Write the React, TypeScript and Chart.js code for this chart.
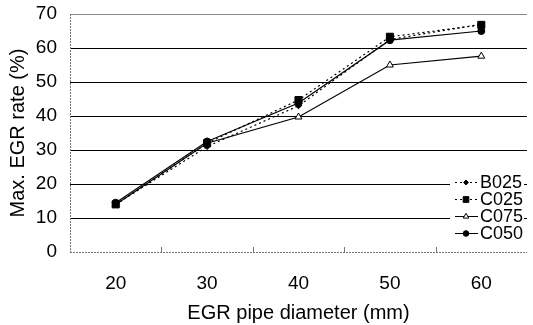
import React, { useEffect, useRef } from "react";
import { Chart, registerables } from "chart.js";
import { drawPoint } from "chart.js/helpers";

Chart.register(...registerables);

const categories = ["20", "30", "40", "50", "60"];
const b025 = [14, 31, 43, 62.5, 67];
const c025 = [14, 32, 44.7, 63.3, 66.8];
const c075 = [14, 32, 39.7, 55, 57.6];
const c050 = [14.5, 32.5, 43.8, 62.3, 65];
const yTicks = [0, 10, 20, 30, 40, 50, 60, 70];
const seriesNames = ["B025", "C025", "C075", "C050"];

const FONT = "'Liberation Sans', Arial, sans-serif";

export default function App() {
  const ref = useRef<HTMLCanvasElement>(null);
  useEffect(() => {
    document.body.style.margin = "0";
    const canvas = ref.current!;
    const series = [
      { label: seriesNames[0], data: b025, dash: [2, 3], style: "rectRot", r: 3, fill: true },
      { label: seriesNames[1], data: c025, dash: [2, 3], style: "rect", r: 5, fill: true },
      { label: seriesNames[2], data: c075, dash: [], style: "triangle", r: 4, fill: false },
      { label: seriesNames[3], data: c050, dash: [], style: "circle", r: 3.5, fill: true },
    ];
    const extras = {
      id: "extras",
      beforeDatasetsDraw(chart: any) {
        const ctx = chart.ctx;
        const { left, right, top, bottom } = chart.chartArea;
        const x = chart.scales.x;
        ctx.save();
        ctx.strokeStyle = "#777";
        ctx.lineWidth = 1;
        ctx.setLineDash([2, 1]);
        ctx.beginPath();
        ctx.moveTo(Math.round(left) + 0.5, top);
        ctx.lineTo(Math.round(left) + 0.5, bottom);
        ctx.moveTo(left, Math.round(bottom) + 0.5);
        ctx.lineTo(right, Math.round(bottom) + 0.5);
        ctx.stroke();
        ctx.setLineDash([]);
        for (let i = 1; i < categories.length; i++) {
          const px = Math.round((x.getPixelForValue(i - 1) + x.getPixelForValue(i)) / 2) + 0.5;
          ctx.beginPath();
          ctx.moveTo(px, bottom);
          ctx.lineTo(px, bottom - 5);
          ctx.stroke();
        }
        ctx.restore();
      },
      afterDatasetsDraw(chart: any) {
        const ctx = chart.ctx;
        ctx.save();
        const bx = 450, by = 173, bw = 74, bh = 70;
        ctx.fillStyle = "#fff";
        ctx.fillRect(bx, by, bw, bh);
        const rows = [182, 199, 216, 233];
        ctx.font = "18px " + FONT;
        ctx.textBaseline = "middle";
        series.forEach((s, i) => {
          const y = rows[i] + 0.5;
          ctx.strokeStyle = "#000";
          ctx.lineWidth = 1;
          ctx.setLineDash(s.dash);
          ctx.beginPath();
          ctx.moveTo(455, y);
          ctx.lineTo(478, y);
          ctx.stroke();
          ctx.setLineDash([]);
          ctx.fillStyle = s.fill ? "#000" : "#fff";
          ctx.strokeStyle = "#000";
          drawPoint(ctx, { pointStyle: s.style, radius: s.r * 0.8, rotation: 0, borderWidth: 1 } as any, 466, y);
          ctx.fillStyle = "#000";
          ctx.fillText(s.label, 480, rows[i] + 1);
        });
        ctx.restore();
      },
    };
    const chart = new Chart(canvas, {
      type: "line",
      data: {
        labels: categories,
        datasets: series.map((s) => ({
          label: s.label,
          data: s.data,
          borderColor: "#000",
          borderWidth: 1.2,
          borderDash: s.dash,
          pointStyle: s.style as any,
          pointRadius: s.r,
          pointBackgroundColor: s.fill ? "#000" : "#fff",
          pointBorderColor: "#000",
          pointBorderWidth: 1,
          tension: 0,
        })),
      },
      options: {
        responsive: false,
        animation: false,
        layout: { padding: { top: 14, right: 0, left: 6, bottom: 0 } },
        plugins: { legend: { display: false }, tooltip: { enabled: false } },
        scales: {
          x: {
            offset: true,
            grid: { display: false },
            border: { display: false },
            ticks: { color: "#000", font: { family: FONT, size: 19 }, padding: 12 },
            title: {
              display: true,
              text: "EGR pipe diameter (mm)",
              color: "#000",
              font: { family: FONT, size: 20 },
              padding: { top: 10, bottom: 0 },
            },
            afterFit: (s: any) => {
              s.height = 73;
              s.paddingLeft = 0;
              s.paddingRight = 0;
            },
          },
          y: {
            min: 0,
            max: 70,
            afterBuildTicks: (s: any) => {
              s.ticks = yTicks.map((v) => ({ value: v }));
            },
            grid: {
              color: (c: any) =>
                c.tick && c.tick.value === 70 ? "#888" : c.tick && c.tick.value === 0 ? "rgba(0,0,0,0)" : "#000",
              drawTicks: false,
              lineWidth: 1,
            },
            border: { display: false },
            ticks: { color: "#000", font: { family: FONT, size: 19 }, padding: 13 },
            title: {
              display: true,
              text: "Max. EGR rate (%)",
              color: "#000",
              font: { family: FONT, size: 20 },
              padding: { top: 0, bottom: 2 },
            },
            afterFit: (s: any) => {
              s.width = 64;
              s.paddingTop = 0;
              s.paddingBottom = 0;
            },
          },
        },
      },
      plugins: [extras],
    });
    return () => chart.destroy();
  }, []);
  return <canvas ref={ref} width={533} height={325} style={{ display: "block" }} />;
}
